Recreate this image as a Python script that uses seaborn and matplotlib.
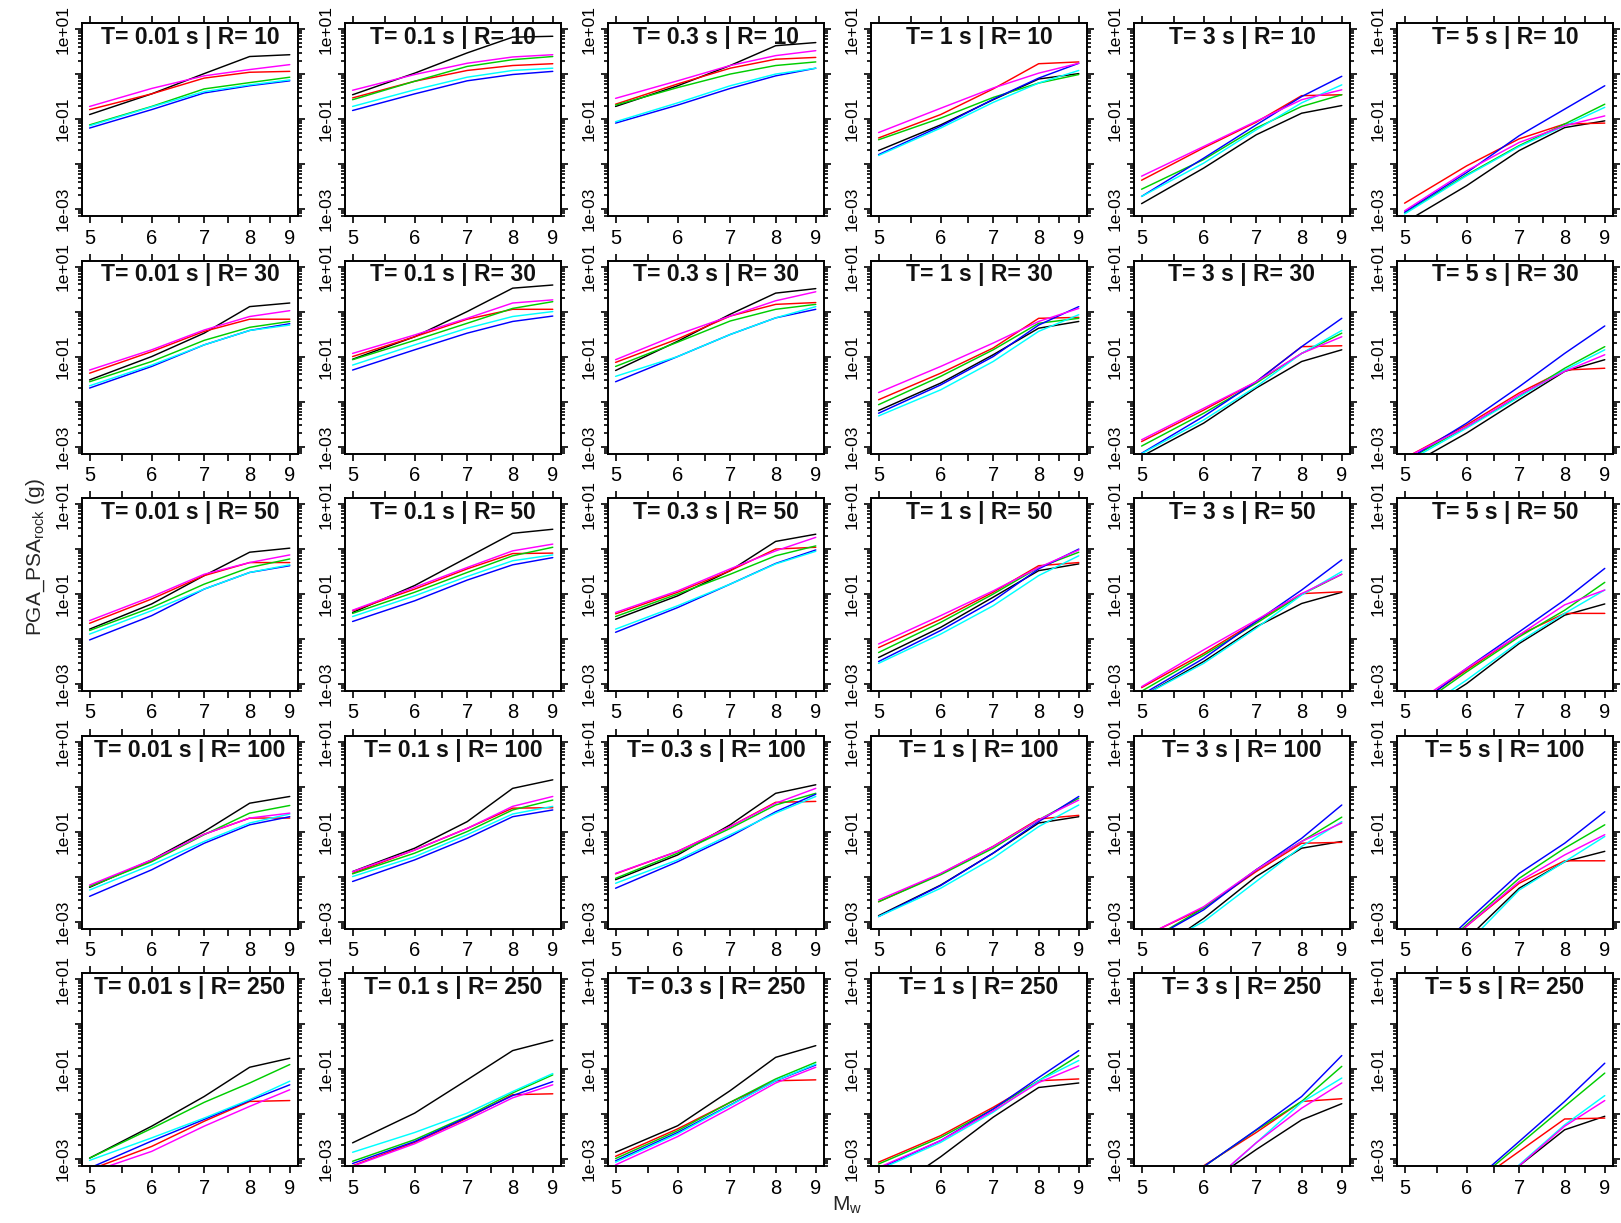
import numpy as np
import pandas as pd
import matplotlib
matplotlib.use("Agg")
import matplotlib.pyplot as plt
import seaborn as sns
from matplotlib.ticker import FixedLocator, FixedFormatter, NullFormatter

# ---------------- data ----------------
MW = [5, 6, 7, 8, 9]
PERIODS = ["0.01", "0.1", "0.3", "1", "3", "5"]
DISTANCES = [10, 30, 50, 100, 250]
SERIES = ["black", "red", "green", "blue", "cyan", "magenta"]
COLOR_HEX = {"black": "#000000", "red": "#FF0000", "green": "#00CD00",
             "blue": "#0000FF", "cyan": "#00FFFF", "magenta": "#FF00FF"}
X_TICKS = [5, 6, 7, 8, 9]
X_MINOR = [5.5, 6.5, 7.5, 8.5]
Y_TICKS = [1e-3, 1e-2, 1e-1, 1e0, 1e1]
Y_LABELS = ["1e-03", "", "1e-01", "", "1e+01"]

# log10(PSA [g]) at MW, one row per panel (R=10: T=0.01..5, then R=30, ...)
LOG_BLACK = [
    [-0.90, -0.44, 0.01, 0.39, 0.43], [-0.46, 0.02, 0.47, 0.82, 0.84], [-0.72, -0.26, 0.19, 0.63, 0.70],
    [-1.70, -1.13, -0.57, -0.11, 0.01], [-2.88, -2.09, -1.35, -0.87, -0.70], [-3.30, -2.48, -1.70, -1.19, -1.04],
    [-1.52, -1.00, -0.48, 0.11, 0.19], [-1.06, -0.56, 0.00, 0.52, 0.59], [-1.31, -0.66, -0.06, 0.41, 0.51],
    [-2.20, -1.59, -0.96, -0.37, -0.22], [-3.22, -2.48, -1.70, -1.11, -0.85], [-3.48, -2.70, -1.96, -1.33, -1.07],
    [-1.78, -1.22, -0.59, -0.07, 0.02], [-1.41, -0.81, -0.19, 0.35, 0.44], [-1.56, -1.04, -0.48, 0.17, 0.33],
    [-2.41, -1.74, -1.07, -0.48, -0.33], [-3.28, -2.50, -1.73, -1.21, -0.96], [-3.87, -2.99, -2.10, -1.47, -1.22],
    [-2.24, -1.63, -1.00, -0.37, -0.22], [-1.89, -1.37, -0.78, -0.04, 0.15], [-2.07, -1.52, -0.85, -0.15, 0.04],
    [-2.87, -2.19, -1.48, -0.81, -0.67], [-3.88, -2.93, -2.00, -1.37, -1.22], [-4.40, -3.39, -2.26, -1.67, -1.44],
    [-2.98, -2.27, -1.61, -0.96, -0.76], [-2.64, -1.98, -1.24, -0.59, -0.36], [-2.85, -2.26, -1.48, -0.74, -0.48],
    [-3.90, -2.95, -2.07, -1.41, -1.31], [-4.40, -3.60, -2.79, -2.13, -1.77], [-5.00, -4.00, -3.15, -2.35, -2.05],
]
LOG_RED = [
    [-0.79, -0.44, -0.09, 0.04, 0.06], [-0.53, -0.16, 0.08, 0.19, 0.23], [-0.67, -0.22, 0.13, 0.33, 0.37],
    [-1.42, -0.90, -0.33, 0.23, 0.27], [-2.36, -1.64, -1.07, -0.48, -0.46], [-2.87, -2.04, -1.44, -1.11, -1.09],
    [-1.37, -0.89, -0.44, -0.17, -0.17], [-1.00, -0.56, -0.17, 0.05, 0.05], [-1.13, -0.61, -0.10, 0.16, 0.20],
    [-1.96, -1.37, -0.81, -0.15, -0.13], [-2.89, -2.19, -1.56, -0.78, -0.76], [-3.26, -2.52, -1.81, -1.30, -1.26],
    [-1.65, -1.11, -0.59, -0.30, -0.30], [-1.37, -0.89, -0.44, -0.10, -0.09], [-1.44, -0.96, -0.48, 0.00, 0.04],
    [-2.19, -1.56, -0.96, -0.37, -0.30], [-3.08, -2.32, -1.61, -0.99, -0.95], [-3.63, -2.69, -1.91, -1.43, -1.43],
    [-2.22, -1.65, -1.06, -0.70, -0.70], [-1.93, -1.41, -0.93, -0.48, -0.47], [-1.94, -1.44, -0.89, -0.35, -0.33],
    [-2.56, -1.94, -1.33, -0.72, -0.64], [-3.35, -2.70, -1.89, -1.26, -1.24], [-4.30, -3.10, -2.15, -1.65, -1.65],
    [-3.24, -2.72, -2.16, -1.72, -1.70], [-3.15, -2.63, -2.09, -1.57, -1.55], [-2.94, -2.33, -1.74, -1.26, -1.24],
    [-3.07, -2.48, -1.85, -1.26, -1.22], [-4.10, -3.15, -2.41, -1.72, -1.66], [-4.60, -3.66, -2.83, -2.11, -2.09],
]
LOG_GREEN = [
    [-1.13, -0.72, -0.33, -0.19, -0.07], [-0.57, -0.16, 0.17, 0.32, 0.39], [-0.69, -0.30, 0.00, 0.19, 0.27],
    [-1.46, -0.98, -0.52, -0.20, -0.01], [-2.56, -1.90, -1.20, -0.72, -0.46], [-3.09, -2.24, -1.59, -1.11, -0.67],
    [-1.56, -1.11, -0.64, -0.35, -0.22], [-1.07, -0.64, -0.26, 0.07, 0.22], [-1.22, -0.68, -0.21, 0.05, 0.16],
    [-2.07, -1.44, -0.85, -0.26, -0.15], [-2.99, -2.26, -1.59, -0.93, -0.48], [-3.33, -2.56, -1.89, -1.26, -0.78],
    [-1.81, -1.30, -0.78, -0.41, -0.22], [-1.43, -0.96, -0.52, -0.15, 0.04], [-1.50, -1.00, -0.56, -0.15, 0.07],
    [-2.30, -1.63, -1.00, -0.41, -0.07], [-3.16, -2.36, -1.65, -1.01, -0.56], [-3.70, -2.73, -1.95, -1.36, -0.74],
    [-2.22, -1.67, -1.07, -0.59, -0.42], [-1.94, -1.48, -1.00, -0.52, -0.30], [-2.04, -1.48, -0.93, -0.41, -0.15],
    [-2.56, -1.96, -1.37, -0.74, -0.26], [-3.52, -2.70, -1.85, -1.22, -0.68], [-4.30, -3.07, -2.04, -1.37, -0.85],
    [-2.98, -2.32, -1.74, -1.31, -0.90], [-3.05, -2.57, -2.05, -1.53, -1.13], [-2.99, -2.37, -1.74, -1.22, -0.85],
    [-3.11, -2.52, -1.89, -1.26, -0.70], [-4.10, -3.17, -2.36, -1.72, -0.94], [-4.60, -3.66, -2.68, -1.83, -1.09],
]
LOG_BLUE = [
    [-1.20, -0.79, -0.42, -0.26, -0.15], [-0.81, -0.44, -0.15, -0.01, 0.06], [-1.09, -0.69, -0.32, -0.04, 0.13],
    [-1.79, -1.16, -0.56, -0.09, 0.24], [-2.72, -1.87, -1.13, -0.50, -0.05], [-3.07, -2.19, -1.37, -0.78, -0.26],
    [-1.70, -1.22, -0.74, -0.42, -0.27], [-1.30, -0.85, -0.48, -0.22, -0.10], [-1.56, -1.00, -0.51, -0.14, 0.05],
    [-2.26, -1.63, -1.00, -0.30, 0.11], [-3.15, -2.33, -1.56, -0.78, -0.15], [-3.33, -2.48, -1.67, -0.93, -0.32],
    [-2.02, -1.48, -0.89, -0.52, -0.37], [-1.61, -1.15, -0.69, -0.35, -0.19], [-1.85, -1.30, -0.78, -0.32, -0.02],
    [-2.50, -1.81, -1.15, -0.44, 0.00], [-3.24, -2.43, -1.61, -0.91, -0.24], [-3.68, -2.65, -1.84, -1.13, -0.43],
    [-2.44, -1.85, -1.26, -0.85, -0.67], [-2.11, -1.63, -1.15, -0.67, -0.52], [-2.26, -1.67, -1.11, -0.56, -0.17],
    [-2.89, -2.20, -1.48, -0.78, -0.22], [-3.52, -2.74, -1.85, -1.15, -0.41], [-4.30, -3.00, -1.93, -1.26, -0.56],
    [-3.20, -2.60, -2.12, -1.70, -1.35], [-3.10, -2.61, -2.07, -1.59, -1.28], [-3.04, -2.41, -1.80, -1.26, -0.91],
    [-3.22, -2.59, -1.89, -1.19, -0.59], [-4.10, -3.17, -2.35, -1.61, -0.70], [-4.60, -3.63, -2.61, -1.72, -0.87],
]
LOG_CYAN = [
    [-1.15, -0.73, -0.39, -0.24, -0.13], [-0.72, -0.35, -0.07, 0.08, 0.13], [-1.06, -0.64, -0.26, 0.00, 0.13],
    [-1.81, -1.20, -0.63, -0.20, 0.08], [-2.72, -1.98, -1.24, -0.64, -0.24], [-3.11, -2.26, -1.61, -1.15, -0.74],
    [-1.65, -1.19, -0.74, -0.42, -0.30], [-1.19, -0.74, -0.37, -0.11, 0.00], [-1.44, -1.00, -0.51, -0.14, 0.11],
    [-2.32, -1.74, -1.11, -0.44, -0.07], [-3.16, -2.41, -1.67, -0.93, -0.42], [-3.37, -2.59, -1.90, -1.30, -0.85],
    [-1.89, -1.37, -0.89, -0.52, -0.35], [-1.50, -1.04, -0.61, -0.26, -0.13], [-1.78, -1.26, -0.78, -0.33, -0.05],
    [-2.54, -1.89, -1.26, -0.59, -0.15], [-3.28, -2.54, -1.76, -1.02, -0.50], [-3.84, -2.91, -2.06, -1.43, -0.91],
    [-2.30, -1.74, -1.22, -0.81, -0.61], [-2.00, -1.56, -1.07, -0.61, -0.44], [-2.15, -1.63, -1.07, -0.59, -0.22],
    [-2.89, -2.26, -1.59, -0.89, -0.41], [-3.75, -3.00, -2.11, -1.33, -0.78], [-4.50, -3.50, -2.30, -1.67, -1.11],
    [-3.03, -2.53, -2.09, -1.68, -1.27], [-2.85, -2.41, -1.98, -1.50, -1.10], [-3.07, -2.44, -1.81, -1.26, -0.89],
    [-3.24, -2.63, -1.96, -1.26, -0.81], [-4.50, -3.68, -2.64, -1.74, -1.20], [-5.00, -4.16, -3.13, -2.24, -1.59],
]
LOG_MAGENTA = [
    [-0.72, -0.32, -0.04, 0.10, 0.21], [-0.36, -0.01, 0.24, 0.38, 0.43], [-0.54, -0.15, 0.19, 0.41, 0.52],
    [-1.30, -0.76, -0.31, 0.02, 0.24], [-2.27, -1.61, -1.05, -0.57, -0.35], [-3.04, -2.15, -1.52, -1.15, -0.93],
    [-1.30, -0.85, -0.41, -0.11, 0.02], [-0.93, -0.52, -0.15, 0.19, 0.26], [-1.07, -0.51, -0.10, 0.24, 0.44],
    [-1.80, -1.22, -0.70, -0.22, 0.07], [-2.85, -2.15, -1.56, -0.93, -0.56], [-3.26, -2.56, -1.85, -1.33, -0.96],
    [-1.59, -1.06, -0.56, -0.30, -0.13], [-1.36, -0.85, -0.41, -0.04, 0.11], [-1.41, -0.93, -0.44, -0.04, 0.26],
    [-2.11, -1.48, -0.93, -0.41, -0.02], [-3.06, -2.24, -1.58, -0.99, -0.56], [-3.58, -2.65, -1.91, -1.24, -0.91],
    [-2.19, -1.63, -1.06, -0.70, -0.59], [-1.89, -1.41, -0.93, -0.44, -0.22], [-1.93, -1.44, -0.89, -0.37, -0.04],
    [-2.52, -1.93, -1.33, -0.74, -0.30], [-3.36, -2.67, -1.85, -1.22, -0.81], [-4.30, -3.10, -2.11, -1.52, -1.07],
    [-3.30, -2.83, -2.27, -1.83, -1.46], [-3.16, -2.66, -2.13, -1.64, -1.35], [-3.13, -2.50, -1.87, -1.31, -0.96],
    [-3.19, -2.59, -1.93, -1.30, -0.93], [-4.50, -3.66, -2.64, -1.87, -1.31], [-5.00, -4.20, -3.15, -2.27, -1.70],
]
SERIES_DATA = [LOG_BLACK, LOG_RED, LOG_GREEN, LOG_BLUE, LOG_CYAN, LOG_MAGENTA]

# ---------------- tidy table ----------------
records = []
for name, arr in zip(SERIES, SERIES_DATA):
    for p, vals in enumerate(arr):
        R = DISTANCES[p // len(PERIODS)]
        T = PERIODS[p % len(PERIODS)]
        for m, v in zip(MW, vals):
            records.append({"series": name, "R": R, "T": T, "Mw": m, "psa": 10.0 ** v})
df = pd.DataFrame(records)

# ---------------- style ----------------
sns.set_style("ticks")
plt.rcParams["font.family"] = ["Liberation Sans", "DejaVu Sans"]
plt.rcParams["mathtext.fontset"] = "custom"
plt.rcParams["mathtext.rm"] = "Liberation Sans"
plt.rcParams["mathtext.it"] = "Liberation Sans:italic"

W, H = 1621, 1223
fig = plt.figure(figsize=(W / 100, H / 100), dpi=100)
fig.patch.set_facecolor("white")

PW, PH = 216, 193
lefts = [82 + 263 * i for i in range(6)]
tops = [23 + 237.5 * j for j in range(5)]

for j, R in enumerate(DISTANCES):
    for i, T in enumerate(PERIODS):
        ax = fig.add_axes([lefts[i] / W, 1 - (tops[j] + PH) / H, PW / W, PH / H])
        ax.set_facecolor("white")
        ax.set_xscale("log")
        ax.set_yscale("log")
        sub = df[(df["R"] == R) & (df["T"] == T)]
        sns.lineplot(data=sub, x="Mw", y="psa", hue="series", hue_order=SERIES,
                     palette=COLOR_HEX, legend=False, ax=ax, linewidth=1.05,
                     estimator=None, sort=True)
        ax.set_xlim(4.89, 9.22)
        ax.set_ylim(10 ** -3.155, 10 ** 1.135)
        ax.set_xlabel("")
        ax.set_ylabel("")

        ax.xaxis.set_major_locator(FixedLocator(X_TICKS))
        ax.xaxis.set_major_formatter(FixedFormatter([str(v) for v in X_TICKS]))
        ax.xaxis.set_minor_locator(FixedLocator(X_MINOR))
        ax.xaxis.set_minor_formatter(NullFormatter())
        ax.yaxis.set_major_locator(FixedLocator(Y_TICKS))
        ax.yaxis.set_major_formatter(FixedFormatter(Y_LABELS))
        ax.yaxis.set_minor_locator(FixedLocator([k * 10.0 ** e for e in range(-4, 2) for k in range(2, 10)]))
        ax.yaxis.set_minor_formatter(NullFormatter())

        ax.tick_params(axis="both", which="both", direction="out", top=True, right=True,
                       width=1.2, color="black", labelcolor="black")
        ax.tick_params(axis="x", which="both", length=5, labelsize=14.5, pad=4)
        ax.tick_params(axis="y", which="major", length=5, labelsize=12.5, pad=3, labelrotation=90)
        ax.tick_params(axis="y", which="minor", length=3)
        for lab in ax.get_yticklabels():
            lab.set_verticalalignment("center")
        for s in ax.spines.values():
            s.set_linewidth(1.4)
            s.set_color("black")

        ax.text(0.5, 1 - 3 / PH, f"T= {T} s | R= {R}", transform=ax.transAxes,
                ha="center", va="top", fontsize=16.5, fontweight="bold", color="#111111")

fig.text(36 / W, 1 - 557 / H, r"PGA_PSA$_{\mathrm{rock}}$ (g)", rotation=90,
         ha="center", va="center", fontsize=15)
fig.text(847 / W, 1 - 1205 / H, r"M$_{\mathrm{w}}$", ha="center", va="center", fontsize=15)

fig.savefig("out.png", dpi=100, facecolor="white")
